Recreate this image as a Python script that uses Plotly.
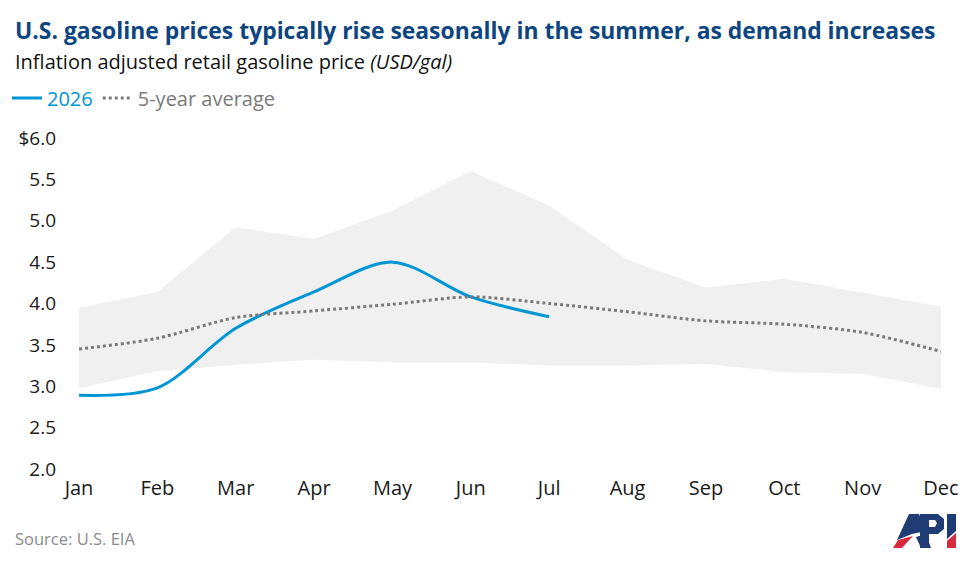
import plotly.graph_objects as go

months = ["Jan", "Feb", "Mar", "Apr", "May", "Jun", "Jul", "Aug", "Sep", "Oct", "Nov", "Dec"]
band_upper = [3.95, 4.14, 4.92, 4.78, 5.12, 5.60, 5.18, 4.53, 4.19, 4.30, 4.13, 3.96]
band_lower = [2.98, 3.18, 3.26, 3.32, 3.29, 3.29, 3.25, 3.25, 3.27, 3.17, 3.15, 2.97]
avg_5yr = [3.45, 3.58, 3.83, 3.91, 3.99, 4.08, 4.00, 3.90, 3.79, 3.75, 3.65, 3.42]
months_2026 = ["Jan", "Feb", "Mar", "Apr", "May", "Jun", "Jul"]
price_2026 = [2.89, 2.98, 3.70, 4.14, 4.50, 4.08, 3.84]

y_ticks = [2.0, 2.5, 3.0, 3.5, 4.0, 4.5, 5.0, 5.5, 6.0]
y_ticktext = ["2.0", "2.5", "3.0", "3.5", "4.0", "4.5", "5.0", "5.5", "$6.0"]

FONT = "Open Sans"
BLUE = "#0096d6"
GREY = "#7a7a7a"
NAVY = "#1f3c74"
RED = "#d62a3e"

fig = go.Figure()
fig.add_trace(go.Scatter(x=months, y=band_lower, mode="lines", line=dict(width=0),
                         showlegend=False, hoverinfo="skip"))
fig.add_trace(go.Scatter(x=months, y=band_upper, mode="lines", line=dict(width=0),
                         fill="tonexty", fillcolor="#f0f0f0", showlegend=False, hoverinfo="skip"))
fig.add_trace(go.Scatter(x=months_2026, y=price_2026, mode="lines",
                         line=dict(color=BLUE, width=3, shape="spline", smoothing=0.9),
                         name=f"<span style='color:{BLUE}'>2026</span>"))
fig.add_trace(go.Scatter(x=months, y=avg_5yr, mode="lines",
                         line=dict(color=GREY, width=3, dash="dot", shape="spline", smoothing=0.8),
                         name=f"<span style='color:{GREY}'>5-year average</span>"))

W, H = 975, 566
L, R, T, B = 79, 34, 138, 97
pw, ph = W - L - R, H - T - B

def px(xp):
    return (xp - L) / pw

def py(yp):
    return (H - B - yp) / ph

def logo_path(pts):
    return "M " + " L ".join(f"{px(a):.5f},{py(b):.5f}" for a, b in pts) + " Z"

# API logo (decorative), drawn as simple polygons
logo_parts = [
    (NAVY, [(897, 540), (909, 514), (919, 514), (926, 531), (912, 534)]),
    (RED, [(893, 548), (898, 540), (913, 536), (902, 548)]),
    (NAVY, [(916, 537), (926, 534), (931, 548), (921, 548)]),
    (NAVY, [(920, 514), (938, 514), (944, 519), (944, 529), (938, 534), (929, 534),
            (929, 548), (920, 548)]),
    (NAVY, [(947, 514), (956, 514), (956, 531), (947, 539)]),
    (RED, [(947, 541), (956, 533), (956, 548), (947, 548)]),
]
shapes = []
for color, pts in logo_parts:
    shapes.append(dict(type="path", xref="paper", yref="paper", path=logo_path(pts),
                       fillcolor=color, line=dict(width=0), layer="above"))
# white counter of the P
shapes.append(dict(type="path", xref="paper", yref="paper",
                   path=logo_path([(929, 520), (935, 520), (937, 523), (935, 527), (929, 527)]),
                   fillcolor="white", line=dict(width=0), layer="above"))

fig.update_layout(
    width=W, height=H,
    margin=dict(l=L, r=R, t=T, b=B, autoexpand=False),
    paper_bgcolor="white", plot_bgcolor="white",
    font=dict(family=FONT, size=19, color="#1a1a1a"),
    legend=dict(orientation="h", xref="paper", yref="paper",
                x=px(7), y=py(98), xanchor="left", yanchor="middle",
                font=dict(size=20), itemwidth=30, traceorder="normal",
                bgcolor="rgba(0,0,0,0)"),
    xaxis=dict(range=[0, 11.0], showgrid=False, zeroline=False, showline=False,
               ticks="", tickfont=dict(size=20, color="#1a1a1a"), ticklabelstandoff=5,
               automargin=False,
               fixedrange=True, type="category", categoryorder="array", categoryarray=months),
    yaxis=dict(range=[2.0, 6.0], tickvals=y_ticks, ticktext=y_ticktext, showgrid=False,
               zeroline=False, showline=False, ticks="", ticklabelstandoff=22,
               automargin=False,
               tickfont=dict(size=19, color="#1a1a1a")),
    shapes=shapes,
    annotations=[
        dict(text="<b>U.S. gasoline prices typically rise seasonally in the summer, as demand increases</b>",
             xref="paper", yref="paper", x=px(13), y=py(30), xanchor="left", yanchor="middle",
             showarrow=False, font=dict(size=22.9, color="#0d4580", family=FONT)),
        dict(text="Inflation adjusted retail gasoline price <i>(USD/gal)</i>",
             xref="paper", yref="paper", x=px(13), y=py(61), xanchor="left", yanchor="middle",
             showarrow=False, font=dict(size=20, color="#111111", family=FONT)),
        dict(text="Source: U.S. EIA",
             xref="paper", yref="paper", x=px(13), y=py(538), xanchor="left", yanchor="middle",
             showarrow=False, font=dict(size=16.5, color="#8c8c8c", family=FONT)),
    ],
)

fig.write_html("out.html")
